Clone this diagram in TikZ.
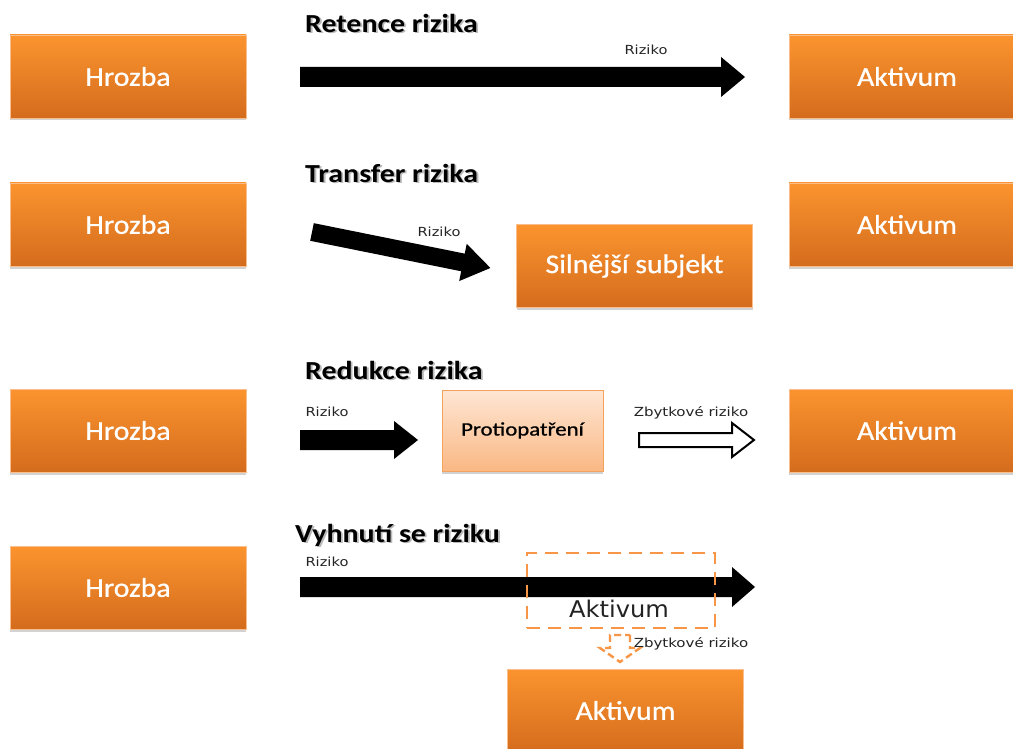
\documentclass[tikz,border=0pt]{standalone}
\usepackage{fontspec}
\usepackage{graphicx}
\setmainfont{Carlito}
\newfontfamily\labelfont{DejaVu Sans}
\newfontfamily\boxfont[FakeBold=0.8]{Carlito}
\usetikzlibrary{shadows,calc}

\definecolor{boxtop}{RGB}{251,148,46}
\definecolor{boxbot}{RGB}{212,108,30}
\definecolor{boxline}{RGB}{250,190,140}
\definecolor{softtop}{RGB}{254,230,212}
\definecolor{softbot}{RGB}{250,184,132}
\definecolor{softline}{RGB}{244,162,92}
\definecolor{dashorange}{RGB}{247,150,70}
\definecolor{labelgray}{RGB}{35,35,35}

\newcommand\widen[2]{\scalebox{#1}[1]{#2}}

\tikzset{
  orangebox/.style={rectangle, minimum width=236pt, minimum height=83pt,
    top color=boxtop, bottom color=boxbot, draw=boxline, line width=0.6pt,
    text=white, font=\boxfont\fontsize{27}{30}\selectfont,
    drop shadow={opacity=0.35, shadow xshift=0pt, shadow yshift=-2.5pt}},
  softbox/.style={rectangle, minimum width=161pt, minimum height=81pt,
    top color=softtop, bottom color=softbot, draw=softline, line width=0.8pt,
    text=black, font=\boxfont\fontsize{19}{22}\selectfont,
    drop shadow={opacity=0.35, shadow xshift=0pt, shadow yshift=-2.5pt}},
  ghostbox/.style={rectangle, minimum width=188pt, minimum height=75pt,
    draw=dashorange, line width=2.6pt, dash pattern=on 13pt off 8pt},
  riskline/.style={inner sep=0pt, text=labelgray, font=\labelfont\fontsize{12.5}{14}\selectfont},
  headline/.style={inner sep=0pt, anchor=west, font=\bfseries\fontsize{26}{30}\selectfont},
  pics/blockarrow/.style n args={4}{code={
    \path[pic actions] (0,-#2) -- ({#1-#4},-#2) -- ({#1-#4},-#3) -- (#1,0)
      -- ({#1-#4},#3) -- ({#1-#4},#2) -- (0,#2) -- cycle;
  }}
}

\newcommand\headtext[3]{%
  \node[headline, text=black!50, opacity=0.55] (#1s) at ($(#2)+(1.8,1.8)$) {\widen{1.15}{#3}};
  \node[headline] (#1) at (#2) {\widen{1.15}{#3}};
}

\begin{document}
\begin{tikzpicture}[x=1pt, y=-1pt]
\useasboundingbox (0,0) rectangle (1013,749);
\fill[white] (0,0) rectangle (1013,749);
\clip (0,0) rectangle (1013,749);

% --- Retence rizika ---
\headtext{t1}{305,23}{Retence rizika}
\node[orangebox] (h1) at (128,76.5) {\widen{1.1}{Hrozba}};
\node[orangebox] (a1) at (907,76.5) {\widen{1.1}{Aktivum}};
\coordinate (r1) at (300,77);
\pic[fill=black] at (r1) {blockarrow={445}{10}{20}{24}};
\node[riskline] (l1) at (646,50) {\widen{1.17}{Riziko}};

% --- Transfer rizika ---
\headtext{t2}{305,173}{Transfer rizika}
\node[orangebox] (h2) at (128,224.5) {\widen{1.1}{Hrozba}};
\node[orangebox] (a2) at (907,224.5) {\widen{1.1}{Aktivum}};
\node[orangebox] (s2) at (634.5,266) {\widen{1.1}{Silnější subjekt}};
\coordinate (r2) at (312,232);
\pic[fill=black, rotate=-11.4] at (r2) {blockarrow={182}{9}{19}{28}};
\node[riskline] (l2) at (439,232) {\widen{1.17}{Riziko}};

% --- Redukce rizika ---
\headtext{t3}{305,370}{Redukce rizika}
\node[orangebox] (h3) at (128,430.5) {\widen{1.1}{Hrozba}};
\node[orangebox] (a3) at (907,430.5) {\widen{1.1}{Aktivum}};
\node[softbox] (p3) at (522.5,430.5) {\widen{1.2}{Protiopatření}};
\coordinate (r3) at (300,440);
\pic[fill=black] at (r3) {blockarrow={118}{10}{19}{24}};
\node[riskline] (l3) at (327,412) {\widen{1.17}{Riziko}};
\coordinate (z3) at (639,440);
\pic[fill=white, draw=black, line width=2pt, line join=miter] at (z3) {blockarrow={115}{7}{17}{22}};
\node[riskline] (m3) at (691,413) {\widen{1.2}{Zbytkové riziko}};

% --- Vyhnutí se riziku ---
\headtext{t4}{295,535}{Vyhnutí se riziku}
\node[orangebox] (h4) at (128,587.5) {\widen{1.1}{Hrozba}};
\coordinate (r4) at (300,587);
\pic[fill=black] at (r4) {blockarrow={455}{10}{20}{23}};
\node[riskline] (l4) at (327,562) {\widen{1.17}{Riziko}};
\node[ghostbox] (g4) at (621,590.5) {};
\node[inner sep=0pt, text=labelgray, font=\labelfont\fontsize{23}{26}\selectfont]
  (g4t) at (619,609) {\widen{1.05}{Aktivum}};
\coordinate (d4) at (620,635);
\pic[draw=dashorange, line width=2.4pt, dash pattern=on 7pt off 4pt, rotate=-90] at (d4) {blockarrow={27}{10}{20}{14}};
\node[riskline] (m4) at (691,644) {\widen{1.2}{Zbytkové riziko}};
\node[orangebox] (a4) at (625.5,710.5) {\widen{1.1}{Aktivum}};
\end{tikzpicture}
\end{document}
